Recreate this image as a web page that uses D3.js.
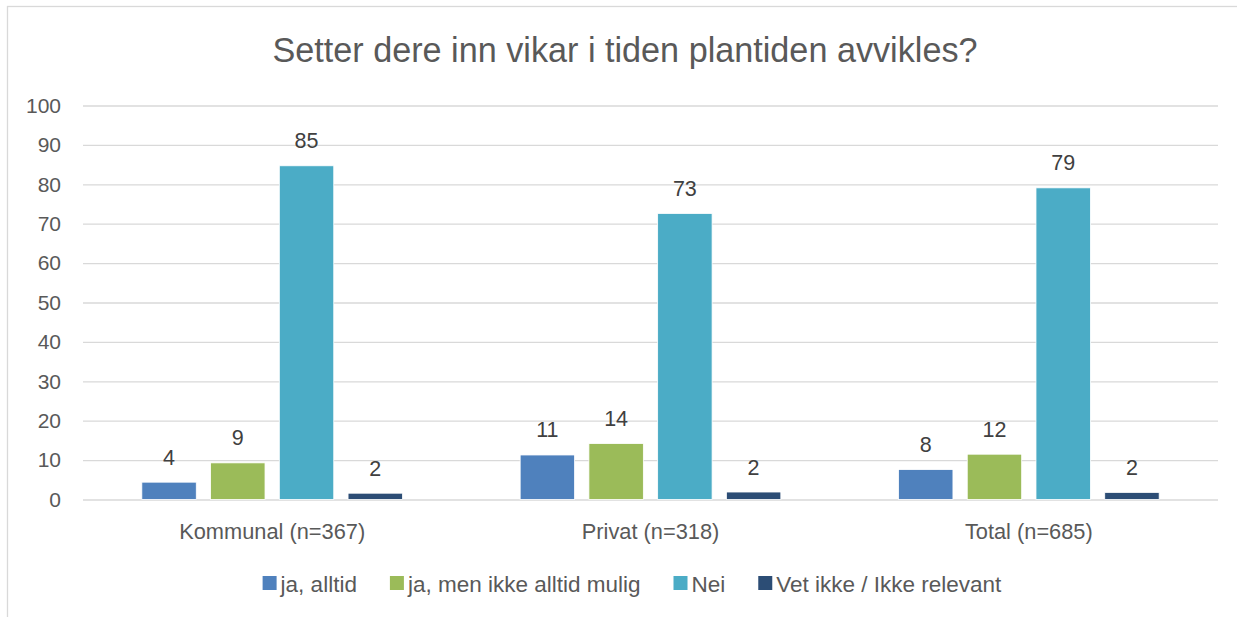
<!DOCTYPE html>
<html>
<head>
<meta charset="utf-8">
<script src="https://cdn.jsdelivr.net/npm/d3@7/dist/d3.min.js"></script>
<style>
  html, body { margin: 0; padding: 0; background: #fff; }
  svg { display: block; font-family: "Liberation Sans", Arial, sans-serif; }
</style>
</head>
<body>
<svg id="chart" width="1237" height="617"></svg>
<script>
// Survey: share (%) answering each option, per provider type
const title = "Setter dere inn vikar i tiden plantiden avvikles?";
const categories = ["Kommunal (n=367)", "Privat (n=318)", "Total (n=685)"];
const seriesNames = ["ja, alltid", "ja, men ikke alltid mulig", "Nei", "Vet ikke / Ikke relevant"];
const jaAlltid      = [4.4, 11.3, 7.6];
const jaMenIkke     = [9.3, 14.2, 11.5];
const nei           = [84.7, 72.6, 79.1];
const vetIkke       = [1.6, 1.9, 1.8];
const yTicks        = [0, 10, 20, 30, 40, 50, 60, 70, 80, 90, 100];
const seriesColors  = ["#4f81bd", "#9bbb59", "#4bacc6", "#2c4d75"];

const seriesValues = [jaAlltid, jaMenIkke, nei, vetIkke];
const rows = categories.map((c, i) => ({
  category: c,
  values: seriesNames.map((s, k) => ({ series: s, value: seriesValues[k][i] }))
}));

const W = 1237, H = 617;
const plot = { left: 83, right: 1218, top: 105.5, bottom: 499.5 };
const svg = d3.select("#chart");

// outer frame
svg.append("rect")
  .attr("x", 7.5).attr("y", 6.5)
  .attr("width", W + 10).attr("height", H + 10)
  .attr("fill", "#fff").attr("stroke", "#d9d9d9").attr("stroke-width", 1.3);

// title
svg.append("text")
  .attr("x", 625).attr("y", 62)
  .attr("text-anchor", "middle")
  .attr("fill", "#595959")
  .style("font-size", "34.2px")
  .text(title);

const y = d3.scaleLinear().domain([0, 100]).range([plot.bottom, plot.top]);
const x0 = d3.scaleBand().domain(categories).range([plot.left, plot.right])
  .paddingInner(0.311).paddingOuter(0.1555);
const x1 = d3.scaleBand().domain(seriesNames).range([0, x0.bandwidth()])
  .paddingInner(0.208).paddingOuter(0);
const color = d3.scaleOrdinal().domain(seriesNames).range(seriesColors);

// horizontal gridlines + value axis labels
const yAxis = d3.axisLeft(y).tickValues(yTicks)
  .tickSize(-(plot.right - plot.left)).tickPadding(22).tickFormat(d3.format("d"));
const gy = svg.append("g").attr("transform", `translate(${plot.left},0)`).call(yAxis);
gy.select(".domain").remove();
gy.selectAll(".tick line").attr("stroke", "#d9d9d9").attr("stroke-width", 1.3);
gy.selectAll(".tick text").attr("fill", "#595959").style("font-size", "21px")
  .attr("font-family", null);

// category axis labels
const xAxis = d3.axisBottom(x0).tickSize(0).tickPadding(24);
const gx = svg.append("g").attr("transform", `translate(0,${plot.bottom})`).call(xAxis);
gx.select(".domain").remove();
gx.selectAll(".tick text").attr("fill", "#595959").style("font-size", "21.8px")
  .attr("font-family", null);

// bars
const groups = svg.append("g").selectAll("g").data(rows).join("g")
  .attr("transform", d => `translate(${x0(d.category)},0)`);

groups.selectAll("rect").data(d => d.values).join("rect")
  .attr("x", d => x1(d.series))
  .attr("y", d => y(d.value))
  .attr("width", x1.bandwidth())
  .attr("height", d => y(0) - y(d.value))
  .attr("fill", d => color(d.series))
  .attr("stroke", "#ffffff").attr("stroke-width", 0.8);

// value labels
groups.selectAll("text.val").data(d => d.values).join("text")
  .attr("class", "val")
  .attr("x", d => x1(d.series) + x1.bandwidth() / 2)
  .attr("y", d => y(d.value) - 17.5)
  .attr("text-anchor", "middle")
  .attr("fill", "#404040")
  .style("font-size", "21.5px")
  .text(d => d3.format(".0f")(d.value));

// legend, laid out from measured label widths and centred
const legend = svg.append("g");
const sw = 14, gapText = 4, gapItem = 33;
const items = legend.selectAll("g").data(seriesNames).join("g");
items.append("rect").attr("width", sw).attr("height", sw).attr("y", -sw / 2 - 1)
  .attr("fill", d => color(d));
items.append("text").attr("x", sw + gapText).attr("y", 0).attr("dy", "0.35em")
  .attr("fill", "#595959").style("font-size", "22.5px").text(d => d);
let cx = 0;
items.each(function () {
  d3.select(this).attr("transform", `translate(${cx},0)`);
  const tw = d3.select(this).select("text").node().getComputedTextLength();
  cx += sw + gapText + tw + gapItem;
});
const legendWidth = cx - gapItem;
legend.attr("transform", `translate(${632 - legendWidth / 2},584)`);
</script>
</body>
</html>
